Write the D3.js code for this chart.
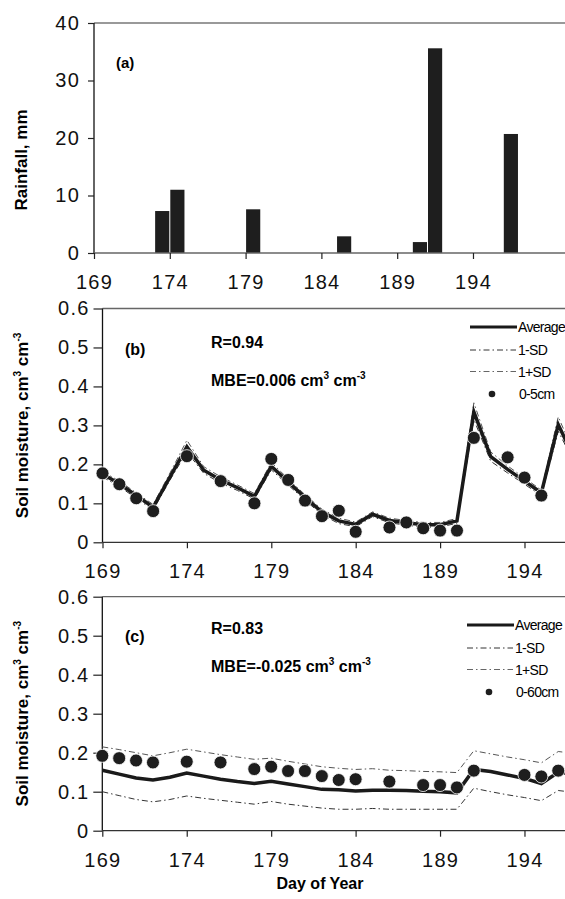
<!DOCTYPE html>
<html>
<head>
<meta charset="utf-8">
<script src="https://cdn.jsdelivr.net/npm/d3@7"></script>
<style>
  body { margin: 0; background: #fff; }
  svg text { font-family: "Liberation Sans", Arial, sans-serif; }
</style>
</head>
<body>
<div id="main"></div>
<script>
// ---- data ----
const rainDays = [173, 174, 179, 185, 190, 191, 196];
const rainMm   = [7.3, 11.0, 7.6, 2.9, 1.9, 35.6, 20.7];

const days = [169, 170, 171, 172, 173, 174, 175, 176, 177, 178, 179, 180, 181, 182, 183,
              184, 185, 186, 187, 188, 189, 190, 191, 192, 193, 194, 195, 196, 197];

// panel (b) 0-5 cm
const avgB   = [0.175, 0.150, 0.120, 0.090, 0.168, 0.245, 0.185, 0.160, 0.140, 0.118, 0.195, 0.155, 0.115, 0.078, 0.055,
                0.046, 0.072, 0.056, 0.050, 0.045, 0.045, 0.055, 0.335, 0.220, 0.187, 0.157, 0.127, 0.302, 0.210];
const plusB  = [0.182, 0.157, 0.127, 0.097, 0.178, 0.262, 0.194, 0.168, 0.147, 0.125, 0.205, 0.163, 0.122, 0.085, 0.062,
                0.052, 0.078, 0.062, 0.056, 0.051, 0.051, 0.061, 0.358, 0.232, 0.196, 0.165, 0.134, 0.322, 0.222];
const minusB = [0.168, 0.143, 0.113, 0.083, 0.160, 0.232, 0.177, 0.152, 0.133, 0.111, 0.186, 0.147, 0.108, 0.071, 0.048,
                0.040, 0.066, 0.050, 0.044, 0.039, 0.039, 0.049, 0.315, 0.208, 0.178, 0.149, 0.120, 0.285, 0.200];
const obsDaysB = [169, 170, 171, 172, 174, 176, 178, 179, 180, 181, 182, 183, 184, 186, 187, 188, 189, 190, 191, 193, 194, 195];
const obsB     = [0.177, 0.149, 0.113, 0.080, 0.221, 0.157, 0.100, 0.214, 0.160, 0.107, 0.067, 0.081, 0.027, 0.038, 0.051,
                  0.036, 0.030, 0.030, 0.268, 0.218, 0.166, 0.120];

// panel (c) 0-60 cm
const avgC   = [0.155, 0.145, 0.135, 0.130, 0.137, 0.148, 0.140, 0.132, 0.126, 0.121, 0.127, 0.120, 0.113, 0.106, 0.105,
                0.102, 0.104, 0.104, 0.103, 0.101, 0.100, 0.097, 0.157, 0.152, 0.143, 0.134, 0.121, 0.150, 0.145];
const plusC  = [0.215, 0.208, 0.200, 0.192, 0.200, 0.209, 0.202, 0.195, 0.189, 0.183, 0.186, 0.178, 0.171, 0.164, 0.160,
                0.157, 0.159, 0.155, 0.154, 0.152, 0.151, 0.149, 0.205, 0.197, 0.189, 0.182, 0.174, 0.203, 0.198];
const minusC = [0.100, 0.090, 0.080, 0.074, 0.080, 0.089, 0.083, 0.078, 0.073, 0.068, 0.075, 0.068, 0.063, 0.058, 0.055,
                0.055, 0.057, 0.055, 0.055, 0.055, 0.055, 0.055, 0.109, 0.100, 0.092, 0.085, 0.077, 0.103, 0.098];
const obsDaysC = [169, 170, 171, 172, 174, 176, 178, 179, 180, 181, 182, 183, 184, 186, 188, 189, 190, 191, 194, 195, 196];
const obsC     = [0.192, 0.186, 0.180, 0.175, 0.177, 0.175, 0.158, 0.164, 0.153, 0.153, 0.140, 0.130, 0.132, 0.126,
                  0.117, 0.117, 0.111, 0.154, 0.143, 0.139, 0.154];

const dayTicks = [169, 174, 179, 184, 189, 194];
const rainTicks = [0, 10, 20, 30, 40];
const smTicks = [0, 0.1, 0.2, 0.3, 0.4, 0.5, 0.6];

const ctx = {
    SVG_W: 565,
    SVG_H: 899,
    right: 565,
};

function styleAxis(g, lineColor) {
    g.selectAll("path").attr("stroke", lineColor).attr("stroke-width", 1.3);
    g.selectAll("line").attr("stroke", "#222").attr("stroke-width", 1.2);
    g.selectAll("text")
        .attr("fill", "#111")
        .style("font-size", "20px")
        .style("font-family", "'Liberation Sans', Arial, sans-serif")
        .attr("letter-spacing", "1.2px");
}

function CreateRain(svgEl) {
    const left = 94, top = 23, bottom = 253;
    const x = d3.scaleLinear().domain([169, 200.07]).range([left, ctx.right]);
    const y = d3.scaleLinear().domain([0, 40]).range([bottom, top]);
    const g = svgEl.append("g").attr("id", "rain");

    // top border
    g.append("line").attr("x1", left).attr("x2", ctx.right)
        .attr("y1", y(40)).attr("y2", y(40))
        .attr("stroke", "#777").attr("stroke-width", 1.3);

    g.selectAll("rect.bar")
        .data(rainDays.map((d, i) => ({ day: d, mm: rainMm[i] })))
        .enter().append("rect")
        .attr("class", "bar")
        .attr("x", d => x(d.day) + 0.5)
        .attr("width", d => x(d.day + 1) - x(d.day) - 1)
        .attr("y", d => y(d.mm))
        .attr("height", d => y(0) - y(d.mm))
        .attr("fill", "#1e1e1e");

    const ya = g.append("g").attr("transform", `translate(${left},0)`)
        .call(d3.axisLeft(y).tickValues(rainTicks).tickSize(6).tickSizeOuter(0).tickPadding(8));
    styleAxis(ya, "#111");
    ya.select(".domain").attr("d", `M0,${y(0)}V${y(40)}`);

    const xa = g.append("g").attr("transform", `translate(0,${bottom})`)
        .call(d3.axisBottom(x).tickValues(dayTicks).tickSize(6).tickSizeOuter(0).tickPadding(16));
    styleAxis(xa, "#666");
    xa.select(".domain").attr("d", `M${left},0H${ctx.right}`);

    g.append("text").attr("x", 116).attr("y", 68)
        .style("font-size", "15px").style("font-weight", "bold").text("(a)");

    g.append("text")
        .attr("transform", `translate(27,${(top + bottom) / 2 + 22}) rotate(-90)`)
        .attr("text-anchor", "middle")
        .style("font-size", "17px").style("font-weight", "bold")
        .text("Rainfall, mm");
}

function addUnits(textSel) {
    textSel.append("tspan").text(" cm");
    textSel.append("tspan").attr("dy", -7).style("font-size", "10px").text("3");
    textSel.append("tspan").attr("dy", 7).text(" cm");
    textSel.append("tspan").attr("dy", -7).style("font-size", "10px").text("-3");
}

function CreateMoisture(svgEl, opt) {
    const left = opt.left, top = opt.top, bottom = opt.bottom;
    const x = d3.scaleLinear().domain([169, 196.4]).range([left, ctx.right]);
    const y = d3.scaleLinear().domain([0, 0.6]).range([bottom, top]);
    const g = svgEl.append("g").attr("id", opt.id);

    g.append("line").attr("x1", left).attr("x2", ctx.right)
        .attr("y1", y(0.6)).attr("y2", y(0.6))
        .attr("stroke", "#666").attr("stroke-width", 1.3);

    const ya = g.append("g").attr("transform", `translate(${left},0)`)
        .call(d3.axisLeft(y).tickValues(smTicks).tickFormat(d => d === 0 ? "0" : d3.format(".1f")(d))
            .tickSize(9).tickSizeOuter(0).tickPadding(4));
    styleAxis(ya, "#111");
    ya.select(".domain").attr("d", `M0,${y(0)}V${y(0.6)}`);

    const xa = g.append("g").attr("transform", `translate(0,${bottom})`)
        .call(d3.axisBottom(x).tickValues(dayTicks).tickSize(6).tickSizeOuter(0).tickPadding(16));
    styleAxis(xa, "#333");
    xa.select(".domain").attr("d", `M${left},0H${ctx.right}`);

    const line = d3.line().x((d, i) => x(days[i])).y(d => y(d));

    g.append("path").datum(opt.minus).attr("d", line)
        .attr("fill", "none").attr("stroke", "#333").attr("stroke-width", 1)
        .attr("stroke-dasharray", "6,3,1.5,3");
    g.append("path").datum(opt.plus).attr("d", line)
        .attr("fill", "none").attr("stroke", "#555").attr("stroke-width", 1)
        .attr("stroke-dasharray", "6,3,1.5,3");
    g.append("path").datum(opt.avg).attr("d", line)
        .attr("fill", "none").attr("stroke", "#1a1a1a").attr("stroke-width", 3.5)
        .attr("stroke-linejoin", "miter");

    g.selectAll("circle.obs")
        .data(opt.obsDays.map((d, i) => ({ day: d, v: opt.obs[i] })))
        .enter().append("circle")
        .attr("class", "obs")
        .attr("cx", d => x(d.day)).attr("cy", d => y(d.v))
        .attr("r", 6.5)
        .attr("fill", "#1e1e1e").attr("stroke", "#fff").attr("stroke-width", 0.8);

    // labels
    g.append("text").attr("x", 125).attr("y", top + opt.tagDy)
        .style("font-size", "16px").style("font-weight", "bold").text(opt.tag);
    g.append("text").attr("x", 211).attr("y", top + opt.rDy)
        .style("font-size", "16px").style("font-weight", "bold").text(opt.rText);
    const mbe = g.append("text").attr("x", 211).attr("y", top + opt.rDy + 38)
        .style("font-size", "16px").style("font-weight", "bold").text(opt.mbeText);
    addUnits(mbe);

    const yt = g.append("text")
        .attr("transform", `translate(28,${(top + bottom) / 2}) rotate(-90)`)
        .attr("text-anchor", "middle")
        .style("font-size", "17px").style("font-weight", "bold")
        .text("Soil moisture,");
    addUnits(yt);

    // legend
    const lg = g.append("g").attr("transform", `translate(${opt.legX},${top + opt.legDy})`);
    const rows = [
        { name: "Average", type: "avg" },
        { name: "1-SD", type: "minus" },
        { name: "1+SD", type: "plus" },
        { name: opt.obsName, type: "dot" },
    ];
    const rowY = [0, 23, 44.5, 67];
    rows.forEach((r, i) => {
        const ry = rowY[i];
        if (r.type === "avg") {
            lg.append("line").attr("x1", 0).attr("x2", 47).attr("y1", ry).attr("y2", ry)
                .attr("stroke", "#1a1a1a").attr("stroke-width", 3.2);
        } else if (r.type === "dot") {
            lg.append("circle").attr("cx", 22).attr("cy", ry).attr("r", 3.3).attr("fill", "#1e1e1e");
        } else {
            lg.append("line").attr("x1", 0).attr("x2", 46).attr("y1", ry).attr("y2", ry)
                .attr("stroke", r.type === "minus" ? "#333" : "#666").attr("stroke-width", 1)
                .attr("stroke-dasharray", "6,3,1.5,3");
        }
        lg.append("text").attr("x", r.type === "dot" ? 49 : 48).attr("y", ry + 5)
            .style("font-size", "14px").attr("letter-spacing", "-0.7px")
            .text(r.name);
    });
}

function createViz() {
    const svgEl = d3.select("#main").append("svg")
        .attr("width", ctx.SVG_W).attr("height", ctx.SVG_H);

    CreateRain(svgEl);

    CreateMoisture(svgEl, {
        id: "panelB", left: 102.5, top: 308.5, bottom: 542.3,
        avg: avgB, plus: plusB, minus: minusB, obsDays: obsDaysB, obs: obsB,
        tag: "(b)", rText: "R=0.94", mbeText: "MBE=0.006",
        tagDy: 46, rDy: 39, legX: 470, legDy: 18.5, obsName: "0-5cm",
    });

    CreateMoisture(svgEl, {
        id: "panelC", left: 102.3, top: 596.7, bottom: 830.7,
        avg: avgC, plus: plusC, minus: minusC, obsDays: obsDaysC, obs: obsC,
        tag: "(c)", rText: "R=0.83", mbeText: "MBE=-0.025",
        tagDy: 45, rDy: 37, legX: 467, legDy: 28.3, obsName: "0-60cm",
    });

    svgEl.append("text").attr("x", 320).attr("y", 889)
        .attr("text-anchor", "middle")
        .style("font-size", "16px").style("font-weight", "bold")
        .text("Day of Year");
}

createViz();
</script>
</body>
</html>
